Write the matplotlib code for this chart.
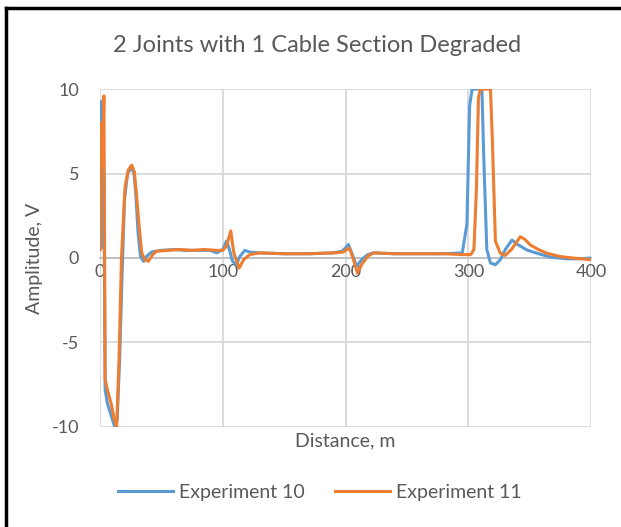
import matplotlib.pyplot as plt
from matplotlib.lines import Line2D

plt.rcParams['font.family'] = ['Lato', 'DejaVu Sans']
plt.rcParams['axes.unicode_minus'] = False

# Experiment 10 (blue)
dist_10 = [0, 1, 1.6, 2.4, 3.2, 4.2, 6, 9, 12, 14, 16, 18, 20, 22.5, 25, 27.5, 29,
           31, 33, 35.5, 38, 42, 50, 60, 70, 80, 90, 95, 100, 103, 105, 108, 111,
           114, 118, 122, 130, 150, 170, 190, 197, 200, 202.3, 205, 209, 213, 218,
           223, 240, 260, 280, 295, 298.8, 301, 303, 304.3, 311, 312.5, 315, 318,
           322, 326, 330, 335.5, 340, 347.7, 355, 366.7, 380, 390, 400]
amp_10 = [0.5, 6.5, 9.3, 0.6, 5.0, -7.8, -8.6, -9.3, -10, -9.6, -6, -1, 3.5, 5.0,
          5.3, 5.1, 4.0, 1.5, 0.1, -0.2, 0.1, 0.35, 0.45, 0.5, 0.45, 0.45, 0.45,
          0.3, 0.5, 1.0, 0.6, -0.2, -0.4, 0.1, 0.45, 0.35, 0.3, 0.25, 0.25, 0.3,
          0.4, 0.6, 0.8, 0.3, -0.5, -0.1, 0.2, 0.3, 0.25, 0.25, 0.25, 0.3, 2.0,
          9.0, 10, 10, 10, 6.0, 0.5, -0.3, -0.4, -0.1, 0.5, 1.06, 0.8, 0.47, 0.3,
          0.05, -0.05, -0.05, 0.0]

# Experiment 11 (orange)
dist_11 = [0, 1, 2, 3.2, 4.2, 6, 9, 11.5, 13.6, 15.5, 17.5, 20.4, 23, 25.8, 28,
           30, 32, 34, 36.5, 39.4, 43, 46, 55, 65, 75, 85, 95, 100, 103, 106.5,
           109, 113.3, 117, 122, 130, 150, 170, 190, 198, 203, 206, 209.7, 213,
           218, 222.7, 240, 260, 280, 295, 302, 304.5, 306.5, 308.2, 309.7, 318,
           319.5, 322, 326, 330, 335, 342.3, 346, 350.4, 357, 364, 375, 385, 399]
amp_11 = [0.5, 8.0, 5.5, 9.6, -7.2, -7.8, -8.6, -9.5, -10, -6, 0, 4.2, 5.2, 5.5,
          5.1, 3.5, 1.8, 0.3, -0.1, -0.2, 0.2, 0.4, 0.45, 0.5, 0.45, 0.5, 0.45,
          0.45, 0.7, 1.6, 0.3, -0.6, -0.1, 0.2, 0.3, 0.25, 0.25, 0.3, 0.35, 0.6,
          0.0, -0.9, -0.4, 0.1, 0.3, 0.25, 0.25, 0.25, 0.2, 0.2, 0.5, 4.0, 9.5,
          10, 10, 7.0, 1.0, 0.28, 0.15, 0.5, 1.26, 1.1, 0.77, 0.5, 0.28, 0.08,
          0.0, -0.1]

x_ticks = [0, 100, 200, 300, 400]
y_ticks = [-10, -5, 0, 5, 10]

fig = plt.figure(figsize=(6.21, 5.27), dpi=100)
ax = fig.add_axes([0.161, 0.190, 0.791, 0.641])

ax.plot(dist_10, amp_10, color='#5B9BD5', lw=2.2, label='Experiment 10',
        solid_joinstyle='round', zorder=3)
ax.plot(dist_11, amp_11, color='#ED7D31', lw=2.2, label='Experiment 11',
        solid_joinstyle='round', zorder=4)

ax.set_xlim(0, 400)
ax.set_ylim(-10, 10)
ax.set_xticks(x_ticks)
ax.set_yticks(y_ticks)
ax.grid(True, color='#D9D9D9', lw=1.3)
ax.set_axisbelow(True)
for s in ['top', 'right', 'left']:
    ax.spines[s].set_visible(False)
ax.spines['bottom'].set_position(('data', 0))
ax.spines['bottom'].set_color('#BFBFBF')
ax.spines['bottom'].set_linewidth(1.3)
ax.tick_params(length=0, labelsize=13, labelcolor='#595959')
ax.tick_params(axis='x', pad=4)
ax.tick_params(axis='y', pad=15)

ax.text(0.5, -0.04, 'Distance, m', transform=ax.transAxes, ha='center',
        va='center', fontsize=14, color='#595959')
ax.set_ylabel('Amplitude, V', fontsize=14, color='#595959', labelpad=6)
fig.text(0.511, 0.913, '2 Joints with 1 Cable Section Degraded', ha='center',
         va='center', fontsize=17, color='#595959')

fig.legend(loc='center', bbox_to_anchor=(0.515, 0.066), ncol=2, frameon=False,
           fontsize=14, labelcolor='#595959', handlelength=2.8, columnspacing=1.6,
           handletextpad=0.3)

# black frame cut off at right and bottom
fig.add_artist(Line2D([0.0097, 0.0097], [0, 0.985], color='black', lw=2.5,
                      transform=fig.transFigure))
fig.add_artist(Line2D([0.0097, 1], [0.985, 0.985], color='black', lw=2.5,
                      transform=fig.transFigure))

fig.savefig('out.png', dpi=100)
